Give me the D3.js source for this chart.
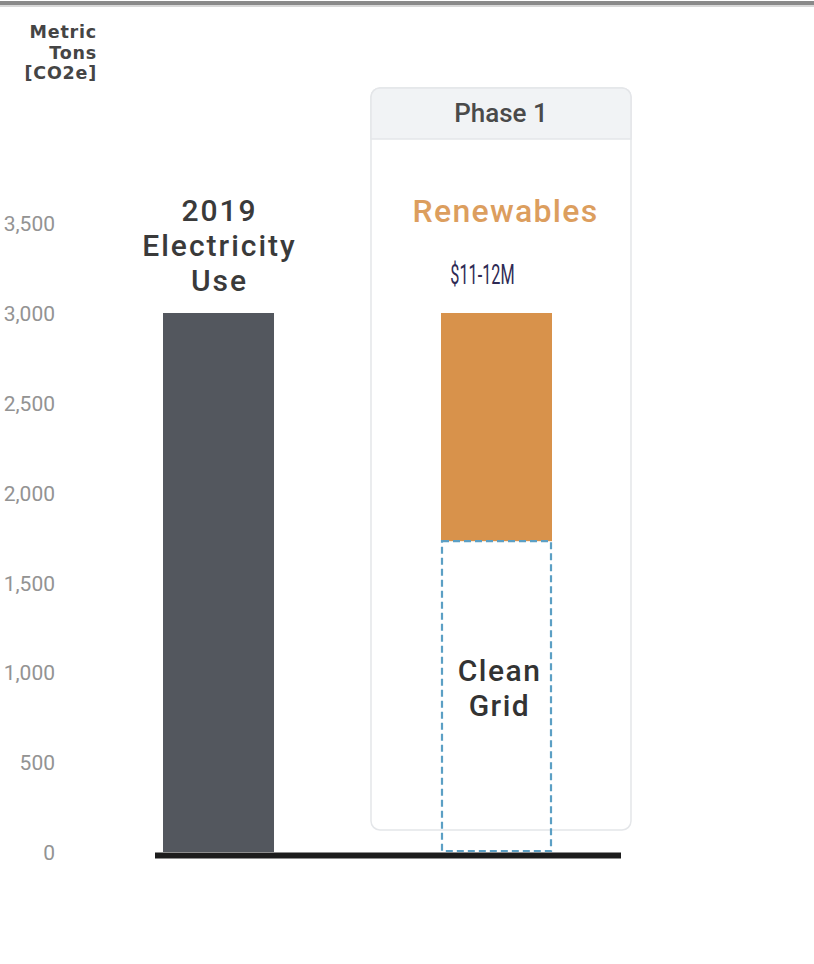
<!DOCTYPE html>
<html><head><meta charset="utf-8">
<script src="https://cdn.jsdelivr.net/npm/d3@7"></script>
<style>body{margin:0;background:#fff;}svg{display:block;}</style>
</head><body>
<svg id="c" width="814" height="964"></svg>
<script>
const categories = ["2019 Electricity Use", "Phase 1"];
const baselineValues = [3000, 0];
const cleanGridValues = [0, 1730];
const renewablesValues = [0, 1270];
const tickValues = [0, 500, 1000, 1500, 2000, 2500, 3000, 3500];
const barLabels = [["2019", "Electricity", "Use"], []];

const svg = d3.select("#c");
const y = d3.scaleLinear().domain([0, 3000]).range([852, 313]);
const x = d3.scaleBand().domain(categories).range([163, 552]).paddingInner(0.6007).paddingOuter(0);
const bw = x.bandwidth();

// top frame line
svg.append("rect").attr("x", 0).attr("y", 1).attr("width", 814).attr("height", 4).attr("fill", "#8a8a8a");
svg.append("rect").attr("x", 0).attr("y", 5).attr("width", 814).attr("height", 2).attr("fill", "#d8d8d8");

// Phase box
const px = x("Phase 1") + bw / 2;
const boxC = px + 4.5;
const boxL = boxC - 130, boxR = boxC + 130, boxT = 88, boxB = 830;
svg.append("rect").attr("x", boxL).attr("y", boxT).attr("width", boxR - boxL).attr("height", boxB - boxT)
  .attr("rx", 9).attr("fill", "#fff").attr("stroke", "#e4e6e9").attr("stroke-width", 1.5);
svg.append("path")
  .attr("d", `M${boxL},${boxT + 9} A9,9 0 0 1 ${boxL + 9},${boxT} L${boxR - 9},${boxT} A9,9 0 0 1 ${boxR},${boxT + 9} L${boxR},${boxT + 51} L${boxL},${boxT + 51} Z`)
  .attr("fill", "#f1f3f5").attr("stroke", "#e4e6e9").attr("stroke-width", 1.5);
svg.append("text").attr("x", boxC).attr("y", boxT + 34).attr("text-anchor", "middle")
  .attr("font-family", "Roboto").attr("font-weight", 500).attr("font-size", 26).attr("fill", "#4a4a4a")
  .text("Phase 1");

// y axis
const axis = d3.axisLeft(y).tickValues(tickValues).tickSize(0).tickPadding(0).tickFormat(d3.format(","));
const ag = svg.append("g").attr("transform", "translate(55,0)").call(axis);
ag.select(".domain").remove();
ag.selectAll("text").attr("font-family", "Roboto").attr("font-size", 21).attr("fill", "#939393").attr("dy", "0.36em");

// axis title
const tg = svg.append("text").attr("text-anchor", "end").attr("font-family", "DejaVu Sans").attr("font-weight", "bold")
  .attr("font-size", 17.5).attr("letter-spacing", 0.8).attr("fill", "#454545");
["Metric", "Tons", "[CO2e]"].forEach((t, i) => tg.append("tspan").attr("x", 97).attr("y", 38 + i * 20.5).text(t));

// baseline bar
svg.selectAll(".base").data(categories.filter((c, i) => baselineValues[i] > 0)).join("rect")
  .attr("x", d => x(d)).attr("width", bw)
  .attr("y", d => y(baselineValues[categories.indexOf(d)]))
  .attr("height", d => y(0) - y(baselineValues[categories.indexOf(d)]))
  .attr("fill", "#53575e");

// renewables bar (stacked on clean grid)
categories.forEach((c, i) => {
  if (renewablesValues[i] > 0) {
    svg.append("rect").attr("x", x(c)).attr("width", bw)
      .attr("y", y(cleanGridValues[i] + renewablesValues[i]))
      .attr("height", y(cleanGridValues[i]) - y(cleanGridValues[i] + renewablesValues[i]))
      .attr("fill", "#d8924b");
  }
  if (cleanGridValues[i] > 0) {
    svg.append("rect").attr("x", x(c) + 1).attr("width", bw - 2)
      .attr("y", y(cleanGridValues[i])).attr("height", y(0) - y(cleanGridValues[i]) - 1)
      .attr("fill", "none").attr("stroke", "#5b9fc4").attr("stroke-width", 2.2).attr("stroke-dasharray", "7,4");
    const cg = svg.append("text").attr("text-anchor", "middle").attr("font-family", "Roboto").attr("font-weight", 500)
      .attr("font-size", 30).attr("letter-spacing", 1.5).attr("fill", "#333");
    ["Clean", "Grid"].forEach((t, k) => cg.append("tspan").attr("x", x(c) + bw / 2 + 3).attr("y", y(cleanGridValues[i] / 2) - 16 + k * 35).text(t));
  }
});

// labels above bars
const l0 = svg.append("text").attr("text-anchor", "middle").attr("font-family", "Roboto").attr("font-weight", 500)
  .attr("font-size", 30).attr("letter-spacing", 2).attr("fill", "#3a3a3a");
barLabels[0].forEach((t, k) => l0.append("tspan").attr("x", x(categories[0]) + bw / 2 + 1).attr("y", 221 + k * 35).text(t));

svg.append("text").attr("x", px + 9).attr("y", 222).attr("text-anchor", "middle")
  .attr("font-family", "Roboto").attr("font-weight", 500).attr("font-size", 32).attr("letter-spacing", 1.3).attr("fill", "#dc9e5e")
  .text("Renewables");
const mx = px - 14, my = 284;
svg.append("text").attr("x", mx).attr("y", my).attr("text-anchor", "middle")
  .attr("font-family", "Roboto").attr("font-size", 28).attr("fill", "#2e2a55")
  .attr("transform", `translate(${mx},${my}) scale(0.58,1) translate(${-mx},${-my})`)
  .text("$11-12M");

// zero baseline
svg.append("line").attr("x1", 155).attr("x2", 621).attr("y1", y(0) + 3.5).attr("y2", y(0) + 3.5)
  .attr("stroke", "#1c1c1c").attr("stroke-width", 6);
</script>
</body></html>
